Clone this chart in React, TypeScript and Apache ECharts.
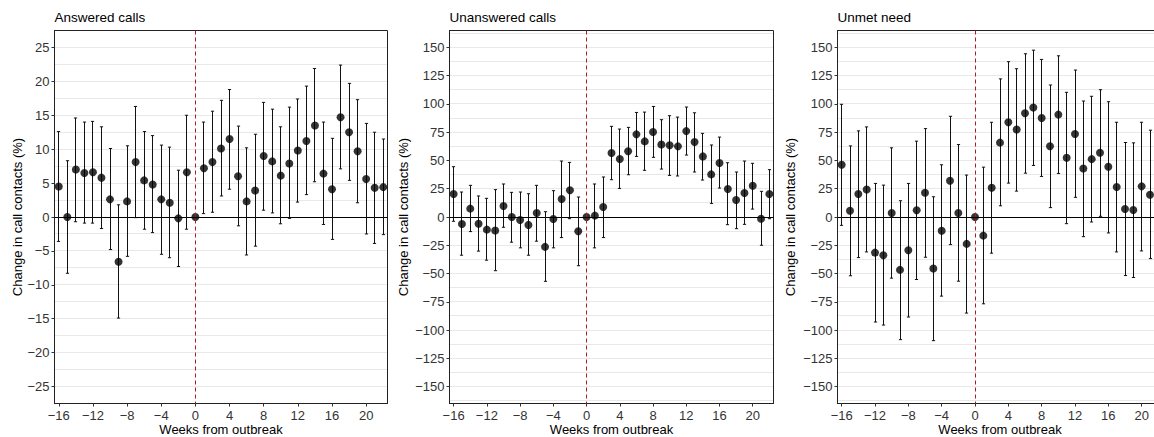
import React, { useEffect, useRef } from "react";
import * as echarts from "echarts";

const weeks = [-16, -15, -14, -13, -12, -11, -10, -9, -8, -7, -6, -5, -4, -3, -2, -1, 0, 1, 2, 3, 4, 5, 6, 7, 8, 9, 10, 11, 12, 13, 14, 15, 16, 17, 18, 19, 20, 21, 22];
const weekTicks = [-16, -12, -8, -4, 0, 4, 8, 12, 16, 20];

const answeredTicks = [-25, -20, -15, -10, -5, 0, 5, 10, 15, 20, 25];
const needTicks = [-150, -125, -100, -75, -50, -25, 0, 25, 50, 75, 100, 125, 150];

const answeredPoint = [4.5, 0, 7.0, 6.5, 6.6, 5.8, 2.6, -6.6, 2.3, 8.1, 5.4, 4.8, 2.6, 2.1, -0.2, 6.6, 0, 7.2, 8.1, 10.1, 11.5, 6.0, 2.3, 3.9, 9.0, 8.2, 6.1, 7.9, 9.8, 11.2, 13.5, 6.4, 4.1, 14.7, 12.5, 9.7, 5.6, 4.3, 4.4];
const answeredUpper = [12.6, 8.3, 14.6, 14.0, 14.1, 13.3, 10.1, 1.8, 10.5, 16.3, 12.6, 12.0, 10.6, 10.3, 6.9, 15.0, null, 14.0, 15.6, 17.2, 18.8, 13.4, 10.2, 12.2, 16.9, 15.9, 13.3, 16.2, 17.4, 19.3, 21.9, 14.0, 11.6, 22.4, 19.7, 17.3, 13.8, 12.5, 11.5];
const answeredLower = [-3.6, -8.3, -0.7, -0.9, -0.9, -1.7, -4.8, -14.9, -5.8, -0.1, -1.8, -2.3, -5.5, -6.0, -7.3, -1.8, null, 0.5, 0.7, 3.1, 4.1, -1.3, -5.6, -4.3, 1.0, 0.6, -1.0, -0.2, 2.2, 3.3, 5.2, -1.1, -3.3, 7.1, 5.4, 2.1, -2.5, -3.9, -2.6];

const unansweredPoint = [20.3, -6.2, 7.4, -5.9, -11.2, -12.0, 9.8, 0, -2.6, -7.0, 3.5, -26.4, -1.8, 15.9, 23.6, -12.6, 0, 1.2, 8.8, 56.6, 51.3, 58.1, 73.1, 66.9, 75.2, 64.2, 63.4, 62.5, 76.0, 66.3, 53.6, 37.7, 47.7, 24.8, 15.0, 21.2, 27.7, -1.5, 20.3];
const unansweredUpper = [44.5, 22.1, 28.0, 18.6, 16.5, 24.2, 29.2, 21.8, 22.1, 20.6, 28.0, 4.7, 23.3, 49.5, 48.3, 17.7, null, 29.2, 35.4, 80.2, 77.8, 79.3, 92.5, 92.8, 97.8, 86.1, 89.6, 88.4, 97.3, 92.2, 74.0, 63.7, 70.7, 48.0, 39.8, 49.5, 47.5, 22.7, 41.9];
const unansweredLower = [-3.8, -33.8, -12.9, -30.2, -38.2, -47.5, -9.1, -22.3, -27.3, -33.8, -21.4, -56.9, -27.3, -18.2, -1.5, -43.1, null, -27.3, -18.2, 33.0, 25.3, 37.4, 53.6, 41.3, 52.8, 42.4, 36.8, 36.3, 54.8, 39.8, 32.7, 12.0, 25.6, -6.8, -10.3, -6.5, 7.0, -25.0, -1.5];

const unmetPoint = [46.2, 5.6, 20.3, 24.4, -31.5, -33.8, 3.5, -46.8, -29.4, 5.9, 21.5, -45.6, -12.1, 32.1, 3.5, -23.8, 0, -16.5, 25.9, 65.8, 83.8, 77.4, 91.8, 96.8, 87.6, 62.6, 90.6, 52.4, 73.5, 42.9, 51.2, 56.8, 44.4, 26.5, 7.1, 6.2, 27.1, 19.7, null];
const unmetUpper = [99.7, 62.9, 76.2, 79.7, 29.7, 28.2, 61.2, 14.4, 29.7, 67.1, 78.2, 17.9, 46.2, 89.1, 64.1, 37.1, null, 44.1, 83.8, 122.2, 137.4, 131.2, 144.4, 147.6, 139.4, 116.8, 142.6, 110.3, 130.0, 102.6, 106.8, 112.6, 102.0, 83.8, 65.9, 65.6, 83.8, 76.8, null];
const unmetLower = [-7.4, -52.0, -35.9, -30.9, -92.9, -95.6, -54.1, -108.5, -88.5, -55.3, -35.6, -109.4, -70.0, -24.4, -56.8, -85.0, null, -76.8, -32.0, 9.9, 30.0, 22.9, 38.8, 45.6, 35.9, 8.3, 38.5, -5.9, 17.4, -17.4, -4.4, 0.6, -14.1, -30.9, -51.8, -53.5, -30.0, -36.8, null];

const FONT = "'Liberation Sans', Arial, Helvetica, sans-serif";
const fmt = (v: number) => (v < 0 ? "\u2212" + Math.abs(v) : String(v));

function gridFromTicks(ticks: number[], lim: number) {
  const step = ticks[1] - ticks[0];
  const vals: number[] = [...ticks];
  for (let i = -1; i < ticks.length; i++) vals.push(ticks[0] + step * (i + 0.5));
  return vals.filter((v) => Math.abs(v) < lim - 0.01);
}

const panels = [
  { title: "Answered calls", point: answeredPoint, upper: answeredUpper, lower: answeredLower, ticks: answeredTicks, lim: 27.5, left: 54.5, width: 333, nameGap: 31 },
  { title: "Unanswered calls", point: unansweredPoint, upper: unansweredUpper, lower: unansweredLower, ticks: needTicks, lim: 165, left: 449.5, width: 324, nameGap: 40 },
  { title: "Unmet need", point: unmetPoint, upper: unmetUpper, lower: unmetLower, ticks: needTicks, lim: 165, left: 837.5, width: 325, nameGap: 41 },
];

const TOP = 30.5;
const HEIGHT = 373;
const XMIN = -16.5;
const XMAX = 22.5;

const crisp = (v: number) => Math.round(v - 0.5) + 0.5;

export default function App() {
  const ref = useRef<HTMLDivElement>(null);
  useEffect(() => {
    if (!ref.current) return;
    const chart = echarts.init(ref.current, null, { renderer: "svg", width: 1154, height: 437 });

    const grid: any[] = [];
    const xAxis: any[] = [];
    const yAxis: any[] = [];
    const title: any[] = [];
    const series: any[] = [];

    panels.forEach((p, i) => {
      grid.push({
        left: p.left, top: TOP, width: p.width, height: HEIGHT,
        show: true, borderColor: "#222", borderWidth: 1, backgroundColor: "#fff",
        containLabel: false, outerBoundsMode: "none",
      });
      title.push({
        text: p.title, left: p.left, top: 10, padding: 0,
        textStyle: { fontSize: 13.5, fontWeight: "normal", color: "#000", fontFamily: FONT },
      });
      xAxis.push({
        gridIndex: i, type: "value", min: XMIN, max: XMAX,
        splitLine: { show: false },
        axisLine: { show: true, onZero: false, lineStyle: { color: "#222", width: 1 } },
        axisTick: { show: true, customValues: weekTicks, length: 3, lineStyle: { color: "#333" } },
        axisLabel: { customValues: weekTicks, margin: 5, fontSize: 13, color: "#333", fontFamily: FONT, formatter: fmt },
        name: "Weeks from outbreak", nameLocation: "middle", nameGap: 19, nameMoveOverlap: false,
        nameTextStyle: { fontSize: 13, color: "#000", fontFamily: FONT, lineHeight: 13 },
      });
      yAxis.push({
        gridIndex: i, type: "value", min: -p.lim, max: p.lim,
        splitLine: { show: false },
        axisLine: { show: true, onZero: false, lineStyle: { color: "#222", width: 1 } },
        axisTick: { show: true, customValues: p.ticks, length: 3, lineStyle: { color: "#333" } },
        axisLabel: { customValues: p.ticks, margin: 5, fontSize: 13, color: "#333", fontFamily: FONT, formatter: fmt },
        name: "Change in call contacts (%)", nameLocation: "middle", nameGap: p.nameGap, nameMoveOverlap: false,
        nameTextStyle: { fontSize: 13, color: "#000", fontFamily: FONT },
      });

      // horizontal grid lines
      series.push({
        type: "custom", xAxisIndex: i, yAxisIndex: i, z: 1, silent: true,
        data: gridFromTicks(p.ticks, p.lim).map((v) => [0, v]),
        encode: { x: 0, y: 1 },
        renderItem: (params: any, api: any) => {
          const cs = params.coordSys;
          const y = crisp(api.coord([0, api.value(1)])[1]);
          return { type: "line", shape: { x1: cs.x + 0.5, y1: y, x2: cs.x + cs.width - 0.5, y2: y }, style: { stroke: "#e8e8e8", lineWidth: 1 } };
        },
      });
      // zero line
      series.push({
        type: "custom", xAxisIndex: i, yAxisIndex: i, z: 2, silent: true,
        data: [[0, 0]],
        encode: { x: 0, y: 1 },
        renderItem: (params: any, api: any) => {
          const cs = params.coordSys;
          const y = crisp(api.coord([0, 0])[1]);
          return { type: "line", shape: { x1: cs.x, y1: y, x2: cs.x + cs.width, y2: y }, style: { stroke: "#000", lineWidth: 1 } };
        },
      });
      // error bars
      const bars: any[] = [];
      weeks.forEach((w, k) => {
        if (p.upper[k] != null && p.lower[k] != null) bars.push([w, p.lower[k], p.upper[k]]);
      });
      series.push({
        type: "custom", xAxisIndex: i, yAxisIndex: i, z: 3, silent: true,
        data: bars,
        encode: { x: 0, y: [1, 2] },
        renderItem: (params: any, api: any) => {
          const lo = api.coord([api.value(0), api.value(1)]);
          const hi = api.coord([api.value(0), api.value(2)]);
          const x = crisp(lo[0]);
          const cw = 1.6;
          const st = { stroke: "#111", lineWidth: 1 };
          return {
            type: "group",
            children: [
              { type: "line", shape: { x1: x, y1: lo[1], x2: x, y2: hi[1] }, style: st },
              { type: "line", shape: { x1: x - cw, y1: lo[1], x2: x + cw, y2: lo[1] }, style: st },
              { type: "line", shape: { x1: x - cw, y1: hi[1], x2: x + cw, y2: hi[1] }, style: st },
            ],
          };
        },
      });
      // points
      const pts: any[] = [];
      weeks.forEach((w, k) => {
        if (p.point[k] != null) pts.push([w, p.point[k]]);
      });
      series.push({
        type: "scatter", xAxisIndex: i, yAxisIndex: i, z: 4, silent: true,
        data: pts, symbol: "circle", symbolSize: 8,
        itemStyle: { color: "#000" },
      });
      // dashed outbreak line
      series.push({
        type: "custom", xAxisIndex: i, yAxisIndex: i, z: 5, silent: true,
        data: [[0, 0]],
        encode: { x: 0, y: 1 },
        renderItem: (params: any, api: any) => {
          const cs = params.coordSys;
          const x = crisp(api.coord([0, 0])[0]);
          return { type: "line", shape: { x1: x, y1: cs.y, x2: x, y2: cs.y + cs.height }, style: { stroke: "#b01c1c", lineWidth: 1, lineDash: [4, 3] } };
        },
      });
    });

    chart.setOption({
      animation: false,
      backgroundColor: "#fff",
      title, grid, xAxis, yAxis, series,
    });
    return () => chart.dispose();
  }, []);

  return <div ref={ref} style={{ position: "fixed", left: 0, top: 0, width: 1154, height: 437, background: "#fff" }} />;
}
